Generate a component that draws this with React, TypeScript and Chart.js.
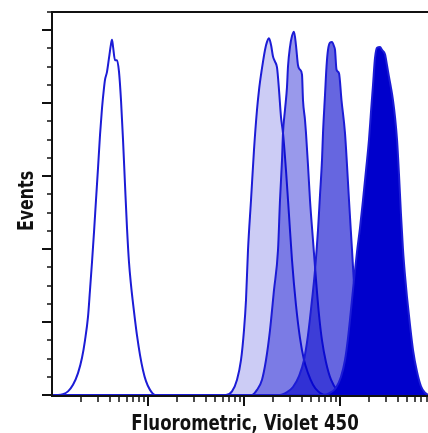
import React, { useEffect, useRef } from 'react';
import { Chart, registerables } from 'chart.js';

Chart.register(...registerables);

// Axis ranges and ticks
const xMin = 10;
const xMax = 100000;
const yMin = 0;
const yMax = 525;
const xMajorTicks = [100, 1000, 10000];
const xMinorTicks = [
  20, 30, 40, 50, 60, 70, 80, 90,
  200, 300, 400, 500, 600, 700, 800, 900,
  2000, 3000, 4000, 5000, 6000, 7000, 8000, 9000,
  20000, 30000, 40000, 50000, 60000, 70000, 80000, 90000,
];
const yMajorTicks = [0, 100, 200, 300, 400, 500];
const yMinorTicks = [25, 50, 75, 125, 150, 175, 225, 250, 275, 325, 350, 375, 425, 450, 475, 525];

const xTitle = 'Fluorometric, Violet 450';
const yTitle = 'Events';

// Histogram 1: unstained (outline only)
const unstainedX = [10, 11.55, 13.02, 14.68, 16.55, 18.66, 20.54, 22.07, 23.71, 24.88, 26.1, 27.38, 28.72, 30.15, 31.62, 33.18, 34.81, 35.65, 37.41, 39.25, 41.17, 42.17, 43.2, 45.32, 47.55, 49.89, 52.34, 54.92, 57.62, 60.43, 63.39, 66.52, 69.78, 73.2, 76.74, 82.5, 88.7, 95.3, 104.9, 118.3, 100000];
const unstainedY = [0, 0, 1, 5, 14, 30, 51, 75, 107, 144, 182, 223, 267, 311, 356, 393, 421, 432, 443, 462, 481, 487, 478, 459, 459, 443, 404, 350, 288, 229, 182, 151, 126, 103, 82, 55, 34, 19, 7, 0, 0];

// Histogram 2
const level1X = [10, 649, 750, 846, 931, 1000, 1049, 1101, 1183, 1271, 1366, 1433, 1504, 1578, 1655, 1736, 1821, 1911, 2005, 2103, 2207, 2316, 2429, 2548, 2738, 2942, 3162, 3481, 3831, 4217, 4642, 5233, 5900, 6978, 100000];
const level1Y = [0, 0, 5, 21, 48, 89, 130, 199, 267, 336, 391, 418, 439, 457, 473, 484, 489, 480, 464, 457, 449, 418, 381, 359, 308, 247, 185, 123, 78, 48, 30, 14, 5, 0, 0];

// Histogram 3
const level2X = [10, 1212, 1366, 1540, 1695, 1866, 2054, 2261, 2371, 2488, 2548, 2673, 2804, 2872, 3013, 3162, 3318, 3481, 3652, 3831, 4019, 4117, 4319, 4424, 4642, 4870, 5233, 5623, 6043, 6494, 7145, 8058, 9306, 11272, 100000];
const level2Y = [0, 0, 7, 21, 48, 89, 144, 199, 267, 322, 359, 391, 422, 450, 477, 492, 498, 479, 452, 446, 439, 404, 377, 359, 315, 267, 212, 158, 110, 75, 45, 21, 7, 0, 0];

// Histogram 4
const level3X = [10, 2371, 2804, 3239, 3741, 4217, 4642, 5109, 5490, 5900, 6190, 6494, 6652, 6978, 7234, 7499, 7867, 8254, 8660, 8872, 9196, 9763, 10366, 11272, 11830, 12409, 13335, 14330, 15399, 16943, 19107, 23160, 100000];
const level3Y = [0, 0, 4, 11, 26, 48, 82, 130, 171, 226, 274, 322, 359, 411, 450, 473, 483, 484, 478, 473, 446, 441, 404, 359, 315, 267, 199, 130, 75, 34, 11, 0, 0];

// Histogram 5 (solid)
const level4X = [10, 6652, 7867, 9085, 10242, 11272, 12115, 13020, 13991, 15031, 16160, 17360, 18660, 20045, 21030, 22072, 23160, 24288, 26102, 27384, 29427, 30870, 32390, 33980, 35650, 37410, 39252, 41170, 43190, 45320, 47540, 49890, 53580, 57590, 63390, 69780, 76740, 86600, 100000];
const level4Y = [0, 0, 3, 10, 25, 48, 78, 117, 158, 196, 229, 267, 308, 350, 388, 425, 462, 476, 477, 473, 467, 452, 436, 421, 404, 381, 350, 302, 247, 199, 164, 134, 96, 62, 32, 12, 3, 0, 0];

const LINE = 'rgb(28,28,214)';
const FONT = '"DejaVu Sans Condensed", "Liberation Sans Narrow", sans-serif';

function pts(xs: number[], ys: number[]) {
  return xs.map((v, i) => ({ x: v, y: ys[i] }));
}

const frameTicksPlugin = {
  id: 'frameTicks',
  afterDatasetsDraw(chart: any) {
    const { ctx, chartArea, scales } = chart;
    const { left, right, top, bottom } = chartArea;
    const x = scales.x;
    const y = scales.y;
    ctx.save();
    ctx.strokeStyle = '#111';
    ctx.lineWidth = 2;
    ctx.lineCap = 'square';
    ctx.beginPath();
    ctx.moveTo(left, bottom + 1);
    ctx.lineTo(left, top);
    ctx.lineTo(right, top);
    ctx.lineTo(right, bottom + 1);
    ctx.lineTo(left, bottom + 1);
    ctx.stroke();
    ctx.lineCap = 'butt';
    ctx.lineWidth = 2;
    ctx.beginPath();
    xMajorTicks.forEach((v) => {
      const px = Math.round(x.getPixelForValue(v));
      ctx.moveTo(px, bottom + 1);
      ctx.lineTo(px, bottom + 11);
    });
    ctx.stroke();
    ctx.lineWidth = 1.5;
    ctx.beginPath();
    xMinorTicks.forEach((v) => {
      const px = Math.round(x.getPixelForValue(v));
      ctx.moveTo(px, bottom + 1);
      ctx.lineTo(px, bottom + 7);
    });
    ctx.stroke();
    ctx.lineWidth = 2;
    ctx.beginPath();
    yMajorTicks.forEach((v) => {
      const py = Math.round(y.getPixelForValue(v));
      ctx.moveTo(left, py);
      ctx.lineTo(left - 10, py);
    });
    ctx.stroke();
    ctx.lineWidth = 1.5;
    ctx.beginPath();
    yMinorTicks.forEach((v) => {
      const py = Math.round(y.getPixelForValue(v));
      ctx.moveTo(left, py);
      ctx.lineTo(left - 5, py);
    });
    ctx.stroke();

    // axis titles (condensed bold, like the original)
    ctx.fillStyle = '#111';
    ctx.font = `bold 22px ${FONT}`;
    ctx.textAlign = 'center';
    ctx.textBaseline = 'alphabetic';
    ctx.save();
    ctx.translate(245, 430);
    ctx.scale(0.84, 1);
    ctx.fillText(xTitle, 0, 0);
    ctx.restore();
    ctx.save();
    ctx.translate(33, 201);
    ctx.rotate(-Math.PI / 2);
    ctx.scale(0.8, 1);
    ctx.fillText(yTitle, 0, 0);
    ctx.restore();
    ctx.restore();
  },
};

export default function App() {
  const ref = useRef<HTMLCanvasElement | null>(null);
  useEffect(() => {
    if (!ref.current) return;
    const base = {
      borderColor: LINE,
      borderWidth: 2,
      pointRadius: 0,
      cubicInterpolationMode: 'monotone' as const,
    };
    const chart = new Chart(ref.current, {
      type: 'line',
      data: {
        datasets: [
          { ...base, label: 'Level 4', data: pts(level4X, level4Y), backgroundColor: 'rgba(0,0,204,1)', fill: 'origin' },
          { ...base, label: 'Level 3', data: pts(level3X, level3Y), backgroundColor: 'rgba(0,0,204,0.6)', fill: 'origin' },
          { ...base, label: 'Level 2', data: pts(level2X, level2Y), backgroundColor: 'rgba(0,0,204,0.4)', fill: 'origin' },
          { ...base, label: 'Level 1', data: pts(level1X, level1Y), backgroundColor: 'rgba(0,0,204,0.2)', fill: 'origin' },
          { ...base, label: 'Unstained', data: pts(unstainedX, unstainedY), backgroundColor: 'rgba(0,0,0,0)', fill: false },
        ],
      },
      options: {
        animation: false,
        responsive: false,
        maintainAspectRatio: false,
        devicePixelRatio: 1,
        layout: { padding: { top: 12, left: 0, right: 0, bottom: 0 } },
        plugins: { legend: { display: false }, tooltip: { enabled: false } },
        scales: {
          x: {
            type: 'logarithmic',
            min: xMin,
            max: xMax,
            ticks: { display: false },
            grid: { display: false },
            border: { display: false },
            title: { display: false, text: xTitle },
            afterFit: (s: any) => { s.height = 38; },
          },
          y: {
            type: 'linear',
            min: yMin,
            max: yMax,
            ticks: { display: false },
            grid: { display: false },
            border: { display: false },
            title: { display: false, text: yTitle },
            afterFit: (s: any) => { s.width = 52; },
          },
        },
      },
      plugins: [frameTicksPlugin],
    });
    return () => chart.destroy();
  }, []);
  return (
    <div style={{ position: 'fixed', left: 0, top: 0, width: 428, height: 433, overflow: 'hidden', background: '#fff' }}>
      <canvas ref={ref} width={436} height={433} style={{ display: 'block', width: 436, height: 433 }} />
    </div>
  );
}
